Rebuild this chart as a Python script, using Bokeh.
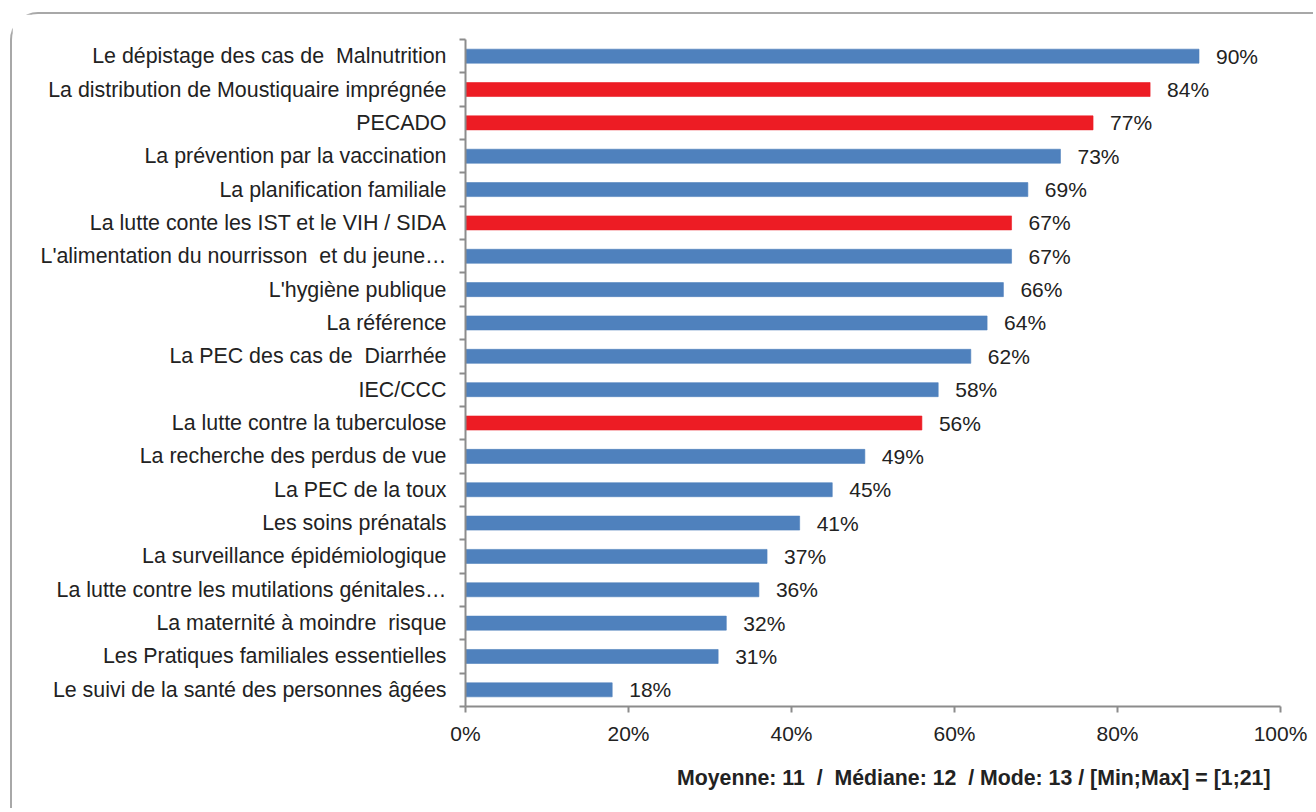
from bokeh.plotting import figure
from bokeh.models import ColumnDataSource, Range1d, FixedTicker, PrintfTickFormatter, Title
from bokeh.core.properties import value
from bokeh.embed import file_html
from bokeh.resources import INLINE

NB = "\u00a0"
categories = [
    "Le dépistage des cas de" + NB + " Malnutrition",
    "La distribution de Moustiquaire imprégnée",
    "PECADO",
    "La prévention par la vaccination",
    "La planification familiale",
    "La lutte conte les IST et le VIH / SIDA",
    "L'alimentation du nourrisson" + NB + " et du jeune…",
    "L'hygiène publique",
    "La référence",
    "La PEC des cas de" + NB + " Diarrhée",
    "IEC/CCC",
    "La lutte contre la tuberculose",
    "La recherche des perdus de vue",
    "La PEC de la toux",
    "Les soins prénatals",
    "La surveillance épidémiologique",
    "La lutte contre les mutilations génitales…",
    "La maternité à moindre" + NB + " risque",
    "Les Pratiques familiales essentielles",
    "Le suivi de la santé des personnes âgées",
]
percentages = [90, 84, 77, 73, 69, 67, 67, 66, 64, 62, 58, 56, 49, 45, 41, 37, 36, 32, 31, 18]
highlighted = [False, True, True, False, False, True, False, False, False, False,
               False, True, False, False, False, False, False, False, False, False]
x_ticks = [0, 20, 40, 60, 80, 100]
footer = ("Moyenne: 11" + NB + " /" + NB + " Médiane: 12" + NB + " / Mode: 13 / "
          "[Min;Max] = [1;21]")

FONT = "Liberation Sans"
TXT = "#222222"
AXIS = "#8c8c8c"
BLUE = "#4F81BD"
RED = "#ED1C24"

n = len(categories)
ys = [n - i - 0.5 for i in range(n)]
colors = [RED if h else BLUE for h in highlighted]
labels = [f"{v}%" for v in percentages]

src = ColumnDataSource(dict(y=ys, v=percentages, color=colors, lab=labels))

p = figure(width=1303, height=796, output_backend="svg", toolbar_location=None,
           x_range=Range1d(0, 100), y_range=Range1d(0, n),
           min_border_left=453, min_border_right=35, min_border_top=25, min_border_bottom=104)
p.margin = (12, 0, 0, 10)
p.styles = {"border-top": "2px solid #a8a8a8", "border-left": "2px solid #a8a8a8",
            "border-right": "0px none", "border-bottom": "0px none",
            "border-top-left-radius": "28px"}
p.outline_line_color = None
p.xgrid.visible = False
p.ygrid.visible = False
p.background_fill_color = "white"
p.border_fill_color = "white"

p.hbar(y="y", left=0, right="v", height=0.42, source=src,
       fill_color="color", line_color="color", line_alpha=0.6)
p.text(x="v", y="y", text="lab", source=src, x_offset=17, text_baseline="middle",
       text_align="left", text_font=value(FONT), text_font_size="21px", text_color=TXT)

# x axis
xa = p.xaxis[0]
xa.ticker = FixedTicker(ticks=x_ticks)
xa.formatter = PrintfTickFormatter(format="%d%%")
xa.axis_line_color = AXIS
xa.axis_line_width = 2
xa.major_tick_line_color = AXIS
xa.major_tick_line_width = 2
xa.major_tick_out = 6
xa.major_tick_in = 0
xa.minor_tick_line_color = None
xa.major_label_text_font = FONT
xa.major_label_text_font_size = "21px"
xa.major_label_text_color = TXT
xa.major_label_standoff = 9

# y axis
ya = p.yaxis[0]
ya.ticker = FixedTicker(ticks=ys, minor_ticks=list(range(n + 1)))
ya.major_label_overrides = {y: c for y, c in zip(ys, categories)}
ya.axis_line_color = AXIS
ya.axis_line_width = 2
ya.major_tick_line_color = None
ya.major_tick_out = 0
ya.major_tick_in = 0
ya.minor_tick_line_color = AXIS
ya.minor_tick_line_width = 2
ya.minor_tick_out = 6
ya.minor_tick_in = 0
ya.major_label_text_font = FONT
ya.major_label_text_font_size = "21.4px"
ya.major_label_text_color = TXT
ya.major_label_standoff = 13

t = Title(text=footer, align="right", offset=10, standoff=33,
          text_font=FONT, text_font_size="21.3px", text_font_style="bold", text_color=TXT)
p.add_layout(t, "below")

open("out.html", "w").write(file_html(p, INLINE))
